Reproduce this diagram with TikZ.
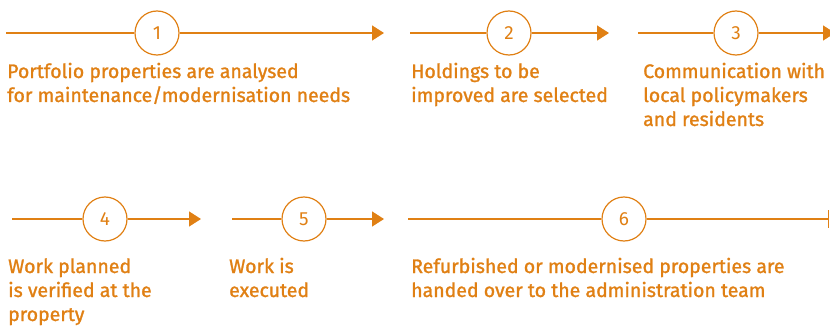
\documentclass[tikz,border=0pt]{standalone}
\usepackage{fontspec}
\setmainfont{Fira Sans}
\newfontfamily\lblfont{Fira Sans}[FakeBold=1.3]
\usetikzlibrary{arrows.meta}
\definecolor{org}{RGB}{224,128,20}
\begin{document}
\begin{tikzpicture}[x=1pt,y=-1pt,
 flow/.style={draw=org, line width=1.4pt},
 tipped/.style={flow, -{Triangle[length=12pt,width=15pt]}},
 barred/.style={flow, -{Bar[width=18pt,line width=1.4pt]}},
 numc/.style={circle, draw=org, line width=1.2pt, minimum size=44pt, inner sep=0pt, text=org, font=\fontsize{19}{19}\selectfont},
 lbl/.style={anchor=base west, align=left, inner sep=0pt, text=org, font=\lblfont\fontsize{19.5}{24}\selectfont}]
\useasboundingbox (0,0) rectangle (830,329);
% row 1
\coordinate (s1) at (6,33);
\node[numc] (c1) at (157,33) {1};
\coordinate (e1) at (384,33);
\coordinate (s2) at (410,33);
\node[numc] (c2) at (509,33) {2};
\coordinate (e2) at (609,33);
\coordinate (s3) at (638,33);
\node[numc] (c3) at (736,33) {3};
\coordinate (e3) at (835,33);
% row 2
\coordinate (s4) at (12,219);
\node[numc] (c4) at (105,219) {4};
\coordinate (e4) at (201,219);
\coordinate (s5) at (232,219);
\node[numc] (c5) at (304,219) {5};
\coordinate (e5) at (384,219);
\coordinate (s6) at (408,219);
\node[numc] (c6) at (624,219) {6};
\coordinate (e6) at (829,219);
\foreach \i in {1,...,5}{
  \draw[flow] (s\i) -- (c\i);
  \draw[tipped] (c\i) -- (e\i);
}
\draw[flow] (s6) -- (c6);
\draw[barred] (c6) -- (e6);
% labels (anchor = baseline of last line)
\node[lbl] (t1) at (7,102) {Portfolio properties are analysed\\for maintenance/modernisation needs};
\node[lbl] (t2) at (411,102) {Holdings to be\\improved are selected};
\node[lbl] (t3) at (643,126) {Communication with\\local policymakers\\and residents};
\node[lbl] (t4) at (8,321) {Work planned\\is verified at the\\property};
\node[lbl] (t5) at (229,297) {Work is\\executed};
\node[lbl] (t6) at (411,297) {Refurbished or modernised properties are\\handed over to the administration team};
\end{tikzpicture}
\end{document}
